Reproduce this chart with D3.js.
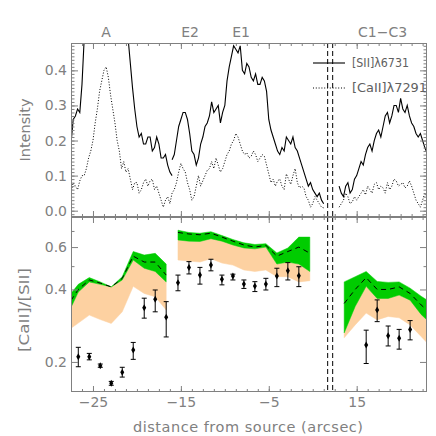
<!DOCTYPE html>
<html><head><meta charset="utf-8">
<script src="https://cdn.jsdelivr.net/npm/d3@7"></script>
<style>body{margin:0;background:#fff} svg{display:block} text{font-family:"DejaVu Sans",sans-serif}</style>
</head><body>
<svg id="c" width="436" height="436"></svg>
<script>
// ---------- data ----------
const step = 0.25;
const siiStarts = [-27.5, -16.0, 3.0];
const sii1 = [0.19,0.26,0.27,0.29,0.28,0.36,0.49,0.56,0.62,0.66,0.70,0.73,0.76,0.78,0.80,0.81,0.82,0.81,0.80,0.78,0.76,0.73,0.70,0.66,0.62,0.56,0.49,0.42,0.35,0.29,0.24,0.21,0.22,0.19,0.19,0.21,0.21,0.17,0.18,0.21,0.19,0.15,0.15,0.16,0.13,0.11,0.10];
const sii2 = [0.145,0.16,0.20,0.24,0.26,0.28,0.28,0.26,0.22,0.17,0.16,0.13,0.15,0.19,0.21,0.24,0.25,0.27,0.31,0.28,0.29,0.30,0.25,0.28,0.30,0.37,0.41,0.44,0.47,0.46,0.45,0.47,0.40,0.39,0.42,0.41,0.38,0.37,0.39,0.36,0.36,0.38,0.37,0.34,0.26,0.23,0.21,0.19,0.17,0.16,0.18,0.17,0.21,0.20,0.19,0.21,0.18,0.17,0.15,0.13,0.11,0.09,0.07,0.08,0.06,0.05,0.04,0.05,0.03,0.02];
const sii3 = [0.07,0.05,0.04,0.07,0.08,0.05,0.06,0.09,0.10,0.12,0.14,0.13,0.16,0.18,0.19,0.17,0.20,0.22,0.23,0.21,0.24,0.27,0.28,0.25,0.27,0.30,0.30,0.28,0.32,0.29,0.28,0.30,0.27,0.25,0.24,0.22,0.21,0.22,0.20,0.18,0.165];
const caStarts = [-27.5, 3.0];
const ca1 = [0.05,0.08,0.07,0.06,0.085,0.10,0.10,0.12,0.15,0.17,0.20,0.25,0.29,0.34,0.37,0.40,0.41,0.38,0.33,0.29,0.25,0.20,0.17,0.12,0.14,0.11,0.12,0.09,0.06,0.08,0.08,0.05,0.06,0.08,0.09,0.07,0.085,0.09,0.06,0.07,0.05,0.03,0.01,0.03,0.04,0.02,0.05,0.06,0.08,0.11,0.135,0.12,0.11,0.08,0.06,0.03,0.04,0.07,0.10,0.07,0.085,0.10,0.115,0.12,0.14,0.12,0.15,0.13,0.11,0.12,0.14,0.16,0.17,0.19,0.20,0.22,0.21,0.19,0.17,0.16,0.165,0.15,0.155,0.17,0.16,0.14,0.15,0.16,0.155,0.13,0.105,0.08,0.09,0.07,0.085,0.09,0.07,0.06,0.105,0.09,0.075,0.10,0.12,0.08,0.065,0.07,0.065,0.04,0.03,0.01,0.02,0.04,0.03,0.02,0.01,0.008];
const ca2 = [0.01,0.02,0.03,0.05,0.04,0.02,0.025,0.04,0.03,0.04,0.05,0.06,0.045,0.07,0.06,0.05,0.075,0.08,0.06,0.07,0.065,0.05,0.08,0.06,0.07,0.09,0.085,0.07,0.075,0.08,0.065,0.07,0.085,0.07,0.05,0.03,0.02,0.01,0.03,0.05,0.04];

// ratio model bands (hi = green top, mid = dashed, lo = green bottom / peach top, min = peach bottom)
const bandLeftX   = [-27.5,-26.67,-25.42,-24.17,-22.92,-21.67,-20.42,-19.17,-17.92,-16.67];
const bandLeftHi  = [0.385,0.42,0.448,0.43,0.41,0.452,0.575,0.556,0.565,0.51];
const bandLeftMid = [0.36,0.40,0.438,0.425,0.41,0.445,0.55,0.52,0.52,0.459];
const bandLeftLo  = [0.337,0.39,0.43,0.42,0.41,0.438,0.53,0.49,0.475,0.43];
const bandLeftMin = [0.276,0.29,0.313,0.30,0.289,0.323,0.412,0.385,0.373,0.329];

const bandMidX   = [-15.33,-14.08,-12.83,-11.58,-10.33,-9.08,-7.83,-6.58,-5.33,-4.08,-2.83,-1.58,-0.33];
const bandMidHi  = [0.705,0.69,0.685,0.695,0.67,0.645,0.625,0.615,0.62,0.567,0.595,0.66,0.66];
const bandMidMid = [0.69,0.68,0.675,0.685,0.66,0.635,0.612,0.60,0.61,0.55,0.575,0.60,0.566];
const bandMidLo  = [0.642,0.635,0.633,0.65,0.635,0.612,0.595,0.59,0.60,0.51,0.52,0.51,0.475];
const bandMidMin = [0.53,0.525,0.52,0.537,0.515,0.505,0.482,0.475,0.482,0.452,0.452,0.43,0.435];

const bandRightX   = [3.58,4.83,6.08,7.33,8.58,9.83,11.08,12.33,13.58];
const bandRightHi  = [0.43,0.452,0.475,0.432,0.428,0.43,0.405,0.375,0.35];
const bandRightMid = [0.35,0.40,0.448,0.40,0.40,0.41,0.385,0.345,0.315];
const bandRightLo  = [0.264,0.34,0.412,0.367,0.367,0.379,0.361,0.315,0.285];
const bandRightMin = [0.252,0.285,0.319,0.299,0.309,0.305,0.285,0.255,0.228];

// measured ratios with error bars
const ptX  = [-26.67,-25.42,-24.17,-22.92,-21.67,-20.42,-19.17,-17.92,-16.67,
              -15.33,-14.08,-12.83,-11.58,-10.33,-9.08,-7.83,-6.58,-5.33,-4.08,-2.83,-1.58,
              6.08,7.33,8.58,9.83,11.08];
const ptY  = [0.210,0.210,0.193,0.163,0.181,0.224,0.336,0.364,0.307,
              0.427,0.494,0.459,0.505,0.441,0.455,0.421,0.413,0.421,0.455,0.478,0.456,
              0.235,0.329,0.257,0.251,0.273];
const ptLo = [0.191,0.204,0.190,0.160,0.173,0.205,0.304,0.323,0.254,
              0.395,0.464,0.421,0.478,0.418,0.438,0.404,0.392,0.398,0.411,0.438,0.411,
              0.197,0.294,0.233,0.226,0.247];
const ptHi = [0.230,0.217,0.196,0.166,0.190,0.241,0.368,0.398,0.356,
              0.459,0.522,0.494,0.534,0.459,0.463,0.438,0.431,0.445,0.490,0.517,0.497,
              0.271,0.362,0.282,0.273,0.297];

const xTickValues = [-25,-15,-5,5];
const xTickLabels = ["\u221225","\u221215","\u22125","15"];
const topYTicks = [0.0,0.1,0.2,0.3,0.4];
const botYTicks = [0.2,0.4,0.6];
const botYMinor = [0.5,0.7];
const regionLabels = ["A","E2","E1","C1\u2212C3"];
const regionX = [-23.5,-13.95,-8.15,7.95];
const sourceLines = [1.7,2.27];
const legendLabels = ["[SII]\u03bb6731","[CaII]\u03bb7291"];

// ---------- layout ----------
const L = 71, R = 427, T1 = 43, B1 = 217, T2 = 217, B2 = 392;
const AX = "#808080";
const svg = d3.select("#c");

const x = d3.scaleLinear().domain([-27.5, 13]).range([L, R]);
const yT = d3.scaleLinear().domain([-0.018, 0.478]).range([B1, T1]);
const yB = d3.scaleLog().domain([0.15, 0.8]).range([B2, T2]);

const defs = svg.append("defs");
defs.append("clipPath").attr("id","clipT").append("rect").attr("x",L).attr("y",T1).attr("width",R-L).attr("height",B1-T1);
defs.append("clipPath").attr("id","clipB").append("rect").attr("x",L).attr("y",T2).attr("width",R-L).attr("height",B2-T2);

// ---------- top panel ----------
const gT = svg.append("g").attr("clip-path","url(#clipT)");
const toPts = (start, vals) => vals.map((v,i)=>({x:start+i*step, y:v}));
const lineT = d3.line().x(d=>x(d.x)).y(d=>yT(d.y));
[sii1,sii2,sii3].forEach((vals,i)=>{
  gT.append("path").attr("d", lineT(toPts(siiStarts[i], vals)))
    .attr("fill","none").attr("stroke","#000").attr("stroke-width",1.1);
});
[ca1,ca2].forEach((vals,i)=>{
  gT.append("path").attr("d", lineT(toPts(caStarts[i], vals)))
    .attr("fill","none").attr("stroke","#000").attr("stroke-width",1).attr("stroke-dasharray","1,1.8");
});

// ---------- bottom panel ----------
const gB = svg.append("g").attr("clip-path","url(#clipB)");
const bands = [
  [bandLeftX,bandLeftHi,bandLeftMid,bandLeftLo,bandLeftMin],
  [bandMidX,bandMidHi,bandMidMid,bandMidLo,bandMidMin],
  [bandRightX,bandRightHi,bandRightMid,bandRightLo,bandRightMin]
];
bands.forEach(([bx,hi,mid,lo,mn])=>{
  const rows = bx.map((v,i)=>({x:v,hi:hi[i],mid:mid[i],lo:lo[i],mn:mn[i]}));
  gB.append("path").attr("d", d3.area().x(d=>x(d.x)).y0(d=>yB(d.mn)).y1(d=>yB(d.lo))(rows))
    .attr("fill","#fdd1a1").attr("stroke","#fdd1a1").attr("stroke-width",0.5);
  gB.append("path").attr("d", d3.area().x(d=>x(d.x)).y0(d=>yB(d.lo)).y1(d=>yB(d.hi))(rows))
    .attr("fill","#00cc00").attr("stroke","#00cc00").attr("stroke-width",0.5);
  gB.append("path").attr("d", d3.line().x(d=>x(d.x)).y(d=>yB(d.mid))(rows))
    .attr("fill","none").attr("stroke","#000").attr("stroke-width",1).attr("stroke-dasharray","5,4");
});
const pts = ptX.map((v,i)=>({x:v,y:ptY[i],lo:ptLo[i],hi:ptHi[i]}));
const eb = gB.append("g").attr("stroke","#000").attr("stroke-width",1);
pts.forEach(d=>{
  const cx = x(d.x);
  eb.append("line").attr("x1",cx).attr("x2",cx).attr("y1",yB(d.lo)).attr("y2",yB(d.hi));
  eb.append("line").attr("x1",cx-2.5).attr("x2",cx+2.5).attr("y1",yB(d.lo)).attr("y2",yB(d.lo));
  eb.append("line").attr("x1",cx-2.5).attr("x2",cx+2.5).attr("y1",yB(d.hi)).attr("y2",yB(d.hi));
});
gB.append("g").selectAll("path").data(pts).join("path")
  .attr("transform", d=>`translate(${x(d.x)},${yB(d.y)})`)
  .attr("d", d3.symbol(d3.symbolDiamond, 14)).attr("fill","#000");

// source dashed lines
[[T1,B1],[T2,B2]].forEach(([a,b])=>{
  sourceLines.forEach(s=>{
    svg.append("line").attr("x1",x(s)).attr("x2",x(s)).attr("y1",a).attr("y2",b)
      .attr("stroke","#000").attr("stroke-width",1).attr("stroke-dasharray","5,3");
  });
});

// ---------- axes ----------
const xMinor = d3.range(-27.5, 13.01, 1.25);
function styleAxis(g){
  g.select(".domain").remove();
  g.selectAll("line").attr("stroke",AX);
  g.selectAll("text").attr("fill",AX).style("font-size","14px").style("font-family","DejaVu Sans, sans-serif");
}
function xAxes(top, bottom, labels){
  const fmt = labels ? ((d,i)=>xTickLabels[i]) : (()=> "");
  svg.append("g").attr("transform",`translate(0,${bottom})`)
    .call(d3.axisBottom(x).tickValues(xTickValues).tickSize(-6).tickPadding(5).tickFormat(fmt)).call(styleAxis);
  svg.append("g").attr("transform",`translate(0,${bottom})`)
    .call(d3.axisBottom(x).tickValues(xMinor).tickSize(-3).tickFormat("")).call(styleAxis);
  svg.append("g").attr("transform",`translate(0,${top})`)
    .call(d3.axisTop(x).tickValues(xTickValues).tickSize(-6).tickFormat("")).call(styleAxis);
  svg.append("g").attr("transform",`translate(0,${top})`)
    .call(d3.axisTop(x).tickValues(xMinor).tickSize(-3).tickFormat("")).call(styleAxis);
}
xAxes(T1, B1, false);
xAxes(T2, B2, true);

const topMinor = d3.range(-0.01, 0.475, 0.01);
svg.append("g").attr("transform",`translate(${L},0)`)
  .call(d3.axisLeft(yT).tickValues(topYTicks).tickSize(-7).tickPadding(4).tickFormat(d3.format(".1f"))).call(styleAxis);
svg.append("g").attr("transform",`translate(${L},0)`)
  .call(d3.axisLeft(yT).tickValues(topMinor).tickSize(-3.5).tickFormat("")).call(styleAxis);
svg.append("g").attr("transform",`translate(${R},0)`)
  .call(d3.axisRight(yT).tickValues(topYTicks).tickSize(-7).tickFormat("")).call(styleAxis);
svg.append("g").attr("transform",`translate(${R},0)`)
  .call(d3.axisRight(yT).tickValues(topMinor).tickSize(-3.5).tickFormat("")).call(styleAxis);

svg.append("g").attr("transform",`translate(${L},0)`)
  .call(d3.axisLeft(yB).tickValues(botYTicks).tickSize(-7).tickPadding(4).tickFormat(d3.format(".1f"))).call(styleAxis);
svg.append("g").attr("transform",`translate(${L},0)`)
  .call(d3.axisLeft(yB).tickValues(botYMinor).tickSize(-3.5).tickFormat("")).call(styleAxis);
svg.append("g").attr("transform",`translate(${R},0)`)
  .call(d3.axisRight(yB).tickValues(botYTicks).tickSize(-7).tickFormat("")).call(styleAxis);
svg.append("g").attr("transform",`translate(${R},0)`)
  .call(d3.axisRight(yB).tickValues(botYMinor).tickSize(-3.5).tickFormat("")).call(styleAxis);

// frames
[[T1,B1],[T2,B2]].forEach(([a,b])=>{
  svg.append("rect").attr("x",L+0.5).attr("y",a+0.5).attr("width",R-L-1).attr("height",b-a-1)
    .attr("fill","none").attr("stroke",AX).attr("stroke-width",1);
});

// ---------- texts ----------
regionLabels.forEach((t,i)=>{
  svg.append("text").attr("x",x(regionX[i])).attr("y",37).attr("text-anchor","middle")
    .attr("fill",AX).style("font-size","14px").text(t);
});
svg.append("text").attr("transform","translate(30,130) rotate(-90)").attr("text-anchor","middle")
  .attr("fill",AX).style("font-size","14.5px").text("Intensity");
svg.append("text").attr("transform","translate(29,310) rotate(-90)").attr("text-anchor","middle")
  .attr("fill",AX).style("font-size","14px").attr("textLength",84).attr("lengthAdjust","spacingAndGlyphs").text("[CaII]/[SII]");
svg.append("text").attr("x",248).attr("y",432).attr("text-anchor","middle")
  .attr("fill",AX).style("font-size","14.5px").attr("textLength",230).text("distance from source (arcsec)");

// legend
const legY = [63, 88];
const legDash = [null, "1,1.8"];
const legW = [57, 75];
legendLabels.forEach((t,i)=>{
  const ln = svg.append("line").attr("x1",313).attr("x2",345).attr("y1",legY[i]).attr("y2",legY[i])
    .attr("stroke","#000").attr("stroke-width",1.1);
  if (legDash[i]) ln.attr("stroke-dasharray",legDash[i]);
  svg.append("text").attr("x",352).attr("y",legY[i]+4).attr("fill","#606060")
    .style("font-size","11.5px").attr("textLength",legW[i]).attr("lengthAdjust","spacingAndGlyphs").text(t);
});
</script>
</body></html>
